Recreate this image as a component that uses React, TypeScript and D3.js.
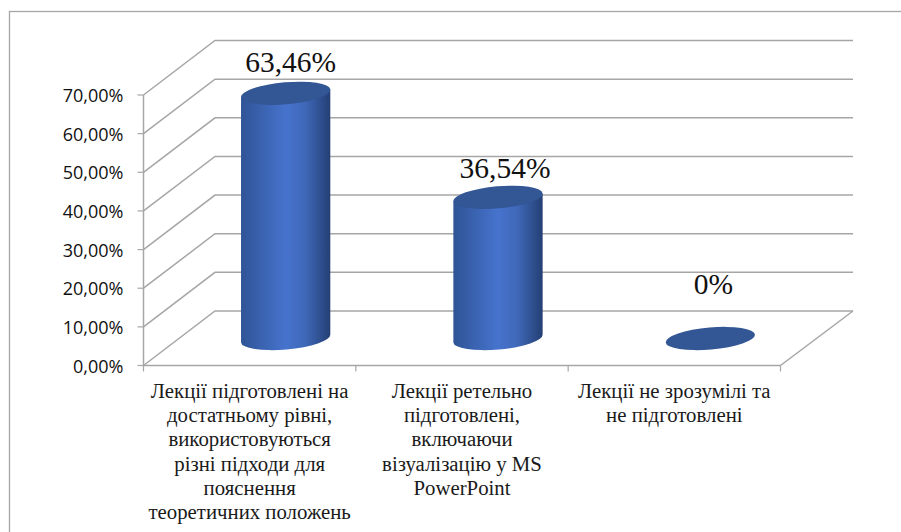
import React from "react";
import * as d3 from "d3";

const categories = [
  ["Лекції підготовлені на", "достатньому рівні,", "використовуються", "різні підходи для", "пояснення", "теоретичних положень"],
  ["Лекції ретельно", "підготовлені,", "включаючи", "візуалізацію у MS", "PowerPoint"],
  ["Лекції не зрозумілі та", "не підготовлені"],
];
const values = [63.46, 36.54, 0];
const valueLabels = ["63,46%", "36,54%", "0%"];
const yTicks = [0, 10, 20, 30, 40, 50, 60, 70];
const labelNudgeX = [5, 7, 3];
const labelNudgeY = [-21, -19, -45];

const W = 901, H = 532;
const y = d3.scaleLinear().domain([0, 70]).range([365.5, 95]);
const x = d3.scaleBand<number>().domain([0, 1, 2]).range([143.5, 780.5]);
const depthX = 71.5, depthY = -54.5;
const rx = 44.8, ry = 11, tilt = -5;
const barShiftX = 36, barShiftY = -27;

function App() {
  const x0 = x.range()[0], x1 = x.range()[1];
  const grid = "#a6a6a6";
  return (
    <svg width={W} height={H} style={{ position: "absolute", left: 0, top: 0, background: "#fff" }}>
      <defs>
        <linearGradient id="cyl" x1="0" x2="1" y1="0" y2="0">
          <stop offset="0" stopColor="#2f5496" />
          <stop offset="0.5" stopColor="#4673cd" />
          <stop offset="0.72" stopColor="#3f68b8" />
          <stop offset="1" stopColor="#243f74" />
        </linearGradient>
      </defs>
      <rect x={9.5} y={11.5} width={W} height={H} fill="none" stroke="#a6a6a6" strokeWidth={1.3} />
      {yTicks.map((t) => (
        <path key={t} fill="none" stroke={grid} strokeWidth={1.5}
          d={`M${x0},${y(t)}L${x0 + depthX},${y(t) + depthY}L${x1 + depthX + 1},${y(t) + depthY}`} />
      ))}
      <path d={`M${x1},${y(0)}L${x1 + depthX + 1},${y(0) + depthY}`} fill="none" stroke={grid} strokeWidth={1.5} />
      <path d={`M${x0},${y(70)}V${y(0)}H${x1}`} fill="none" stroke={grid} strokeWidth={1.5} />
      {yTicks.map((t) => (
        <g key={t}>
          <line x1={x0 - 6} x2={x0} y1={y(t)} y2={y(t)} stroke={grid} strokeWidth={1.2} />
          <text x={123.5} y={y(t) + 7} textAnchor="end" fontFamily="'Open Sans', sans-serif" fontSize={18} fill="#111">
            {t.toFixed(2).replace(".", ",")}%
          </text>
        </g>
      ))}
      {d3.range(4).map((i) => {
        const tx = x0 + (i * (x1 - x0)) / 3;
        return <line key={i} x1={tx} x2={tx} y1={y(0)} y2={y(0) + 6} stroke={grid} strokeWidth={1.2} />;
      })}
      {values.map((v, i) => {
        const cx = x(i)! + x.bandwidth() / 2 + barShiftX;
        const base = y(0) + barShiftY;
        const top = y(v) + barShiftY;
        const rad = (tilt * Math.PI) / 180;
        const dx = rx * Math.cos(rad), dy = rx * Math.sin(rad);
        return (
          <g key={i}>
            {v > 0 && (
              <path fill="url(#cyl)"
                d={`M${cx - dx},${top - dy}L${cx - dx},${base - dy}A${rx},${ry} ${tilt} 0 0 ${cx + dx},${base + dy}L${cx + dx},${top + dy}Z`} />
            )}
            <ellipse cx={cx} cy={top} rx={rx} ry={ry} transform={`rotate(${tilt} ${cx} ${top})`} fill="#335694" />
            <text x={cx + labelNudgeX[i]} y={top + labelNudgeY[i]} textAnchor="middle" fontFamily="'Liberation Serif', serif" fontSize={29.5} fill="#111">
              {valueLabels[i]}
            </text>
          </g>
        );
      })}
      {categories.map((lines, i) => (
        <g key={i}>
          {lines.map((l, j) => (
            <text key={j} x={x(i)! + x.bandwidth() / 2} y={398 + j * 24.2} textAnchor="middle"
              fontFamily="'Liberation Serif', serif" fontSize={20.8} fill="#1a1a1a">
              {l}
            </text>
          ))}
        </g>
      ))}
    </svg>
  );
}

export default App;
